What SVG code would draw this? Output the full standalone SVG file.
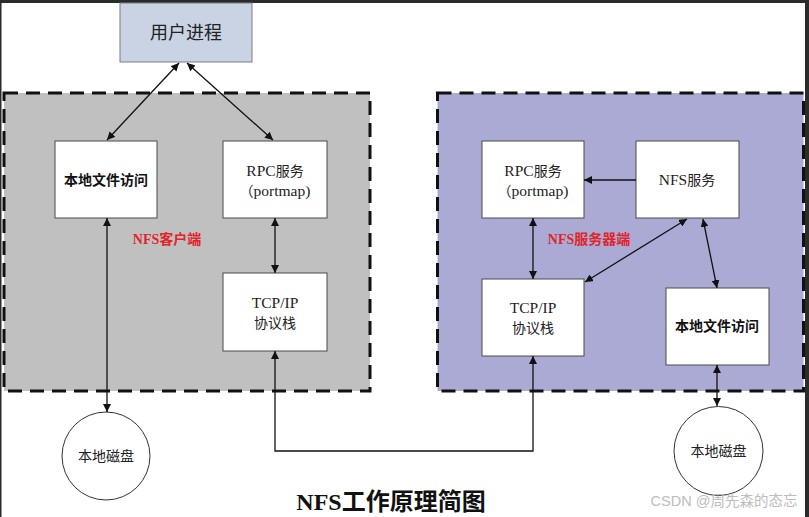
<svg xmlns="http://www.w3.org/2000/svg" width="809" height="517" viewBox="0 0 809 517">
<style>
.box{fill:#ffffff;stroke:#4a4a4a;stroke-width:1}
.t{font-family:"Liberation Serif","Noto Sans CJK SC",serif;font-size:14px;fill:#222;text-anchor:middle}
.la{font-size:15.5px}
.tb{font-family:"Liberation Serif","Noto Sans CJK SC",serif;font-size:14px;fill:#111;text-anchor:middle;font-weight:bold}
.red{font-family:"Liberation Serif","Noto Sans CJK SC",serif;font-size:14px;fill:#e0242a;text-anchor:middle;font-weight:bold}
.zone{stroke:#111;stroke-width:3;stroke-dasharray:14 8}
.ln{stroke:#111;stroke-width:1.3;fill:none}
</style>
<defs>
<marker id="ah" viewBox="0 0 10 10" refX="10" refY="5" markerWidth="8" markerHeight="8" markerUnits="userSpaceOnUse" orient="auto-start-reverse">
<path d="M0,0 L10,5 L0,10 z" fill="#111"/>
</marker>
</defs>
<rect x="0" y="0" width="809" height="517" fill="#ffffff"/>
<rect x="0" y="0" width="809" height="3" fill="#2b2b2b"/>
<rect x="0" y="0" width="1.5" height="517" fill="#2b2b2b"/>
<rect x="805" y="0" width="4" height="517" fill="#2b2b2b"/>

<g id="client-zone">
<rect class="zone" x="4" y="93" width="366" height="298" fill="#c0c0c0"/>
</g>
<g id="server-zone">
<rect class="zone" x="437.5" y="93" width="366" height="298" fill="#aaaad5"/>
</g>

<g id="user-process">
<rect x="120" y="3" width="132" height="59" fill="#c9d3e4" stroke="#7a7f88" stroke-width="1"/>
<text class="t" x="186" y="39" style="font-size:18px">用户进程</text>
</g>

<g id="client-local-file">
<rect class="box" x="55" y="141" width="102" height="77"/>
<text class="tb" x="106" y="185">本地文件访问</text>
</g>
<g id="client-rpc">
<rect class="box" x="223" y="141" width="104" height="77"/>
<text class="t" x="275" y="176"><tspan class="la">RPC</tspan>服务</text>
<text class="t" x="275" y="196">（<tspan class="la">portmap)</tspan></text>
</g>
<g id="client-label">
<text class="red" x="167" y="244">NFS客户端</text>
</g>
<g id="client-tcp">
<rect class="box" x="223" y="273" width="104" height="78"/>
<text class="t la" x="275" y="308">TCP/IP</text>
<text class="t" x="275" y="328">协议栈</text>
</g>
<g id="client-disk">
<circle cx="106" cy="456" r="44" fill="#ffffff" stroke="#333" stroke-width="1"/>
<text class="t" x="106" y="461">本地磁盘</text>
</g>

<g id="server-rpc">
<rect class="box" x="482" y="141" width="102" height="77"/>
<text class="t" x="533" y="176"><tspan class="la">RPC</tspan>服务</text>
<text class="t" x="533" y="196">（<tspan class="la">portmap)</tspan></text>
</g>
<g id="server-nfs">
<rect class="box" x="636" y="141" width="103" height="77"/>
<text class="t" x="687" y="185"><tspan class="la">NFS</tspan>服务</text>
</g>
<g id="server-label">
<text class="red" x="589" y="244">NFS服务器端</text>
</g>
<g id="server-tcp">
<rect class="box" x="482" y="279" width="102" height="77"/>
<text class="t la" x="533" y="313">TCP/IP</text>
<text class="t" x="533" y="333">协议栈</text>
</g>
<g id="server-local-file">
<rect class="box" x="666" y="288" width="103" height="77"/>
<text class="tb" x="717" y="331">本地文件访问</text>
</g>
<g id="server-disk">
<circle cx="718.5" cy="451" r="44.5" fill="#ffffff" stroke="#333" stroke-width="1"/>
<text class="t" x="718.5" y="456">本地磁盘</text>
</g>

<g id="connectors">
<line class="ln" x1="179" y1="63" x2="107" y2="140" marker-start="url(#ah)" marker-end="url(#ah)"/>
<line class="ln" x1="187" y1="63" x2="273" y2="140" marker-start="url(#ah)" marker-end="url(#ah)"/>
<line class="ln" x1="107" y1="218" x2="107" y2="412" marker-start="url(#ah)" marker-end="url(#ah)"/>
<line class="ln" x1="275" y1="218" x2="275" y2="273" marker-start="url(#ah)" marker-end="url(#ah)"/>
<polyline class="ln" points="275,351 275,451 533,451 533,356" marker-start="url(#ah)" marker-end="url(#ah)"/>
<line class="ln" x1="636" y1="180" x2="584" y2="180" marker-end="url(#ah)"/>
<line class="ln" x1="533" y1="218" x2="533" y2="279" marker-start="url(#ah)" marker-end="url(#ah)"/>
<line class="ln" x1="687" y1="219" x2="585" y2="282" marker-start="url(#ah)" marker-end="url(#ah)"/>
<line class="ln" x1="703" y1="219" x2="717" y2="288" marker-start="url(#ah)" marker-end="url(#ah)"/>
<line class="ln" x1="717" y1="365" x2="717" y2="406" marker-start="url(#ah)" marker-end="url(#ah)"/>
</g>

<g id="title">
<text x="391" y="510" style="font-family:'Liberation Serif','Noto Sans CJK SC',serif;font-size:24px;font-weight:bold;fill:#111;text-anchor:middle">NFS工作原理简图</text>
</g>
<g id="watermark">
<text x="724" y="506" style="font-family:'Liberation Sans','Noto Sans CJK SC',sans-serif;font-size:14.5px;fill:#bdbdbd;text-anchor:middle">CSDN @周先森的态忘</text>
</g>
</svg>
